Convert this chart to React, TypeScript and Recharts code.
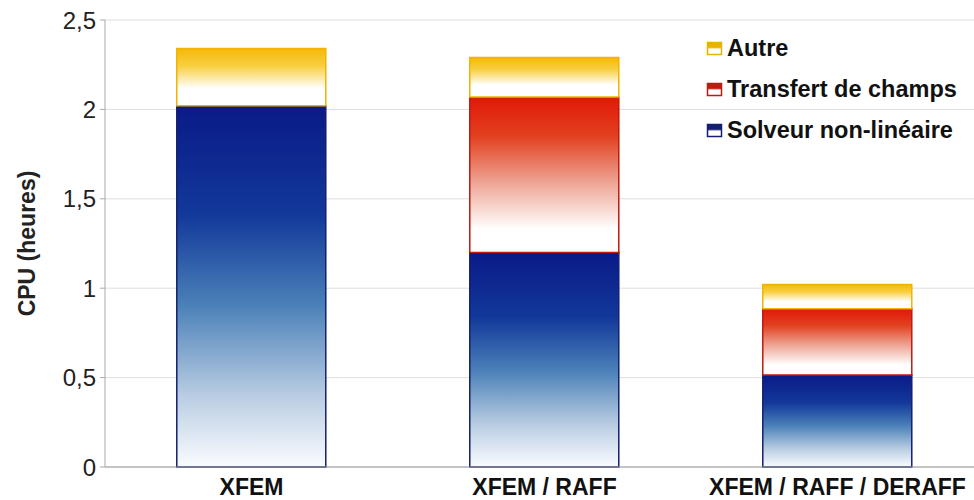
import React from 'react';
import { BarChart, Bar, XAxis, YAxis, CartesianGrid } from 'recharts';

const categories = ['XFEM', 'XFEM / RAFF', 'XFEM / RAFF / DERAFF'];
const solveur = [2.02, 1.2, 0.515];
const transfert = [0, 0.87, 0.37];
const autre = [0.32, 0.22, 0.135];
const yTicks = [0, 0.5, 1, 1.5, 2, 2.5];

const seriesNames = { autre: 'Autre', transfert: 'Transfert de champs', solveur: 'Solveur non-linéaire' };

const data = categories.map((c, i) => ({
  name: c,
  solveur: solveur[i],
  transfert: transfert[i],
  autre: autre[i],
}));

const FONT = '"Liberation Sans", Arial, sans-serif';

const legendItems = [
  { key: 'autre', grad: 'gY', stroke: '#e8b200' },
  { key: 'transfert', grad: 'gR', stroke: '#c01a10' },
  { key: 'solveur', grad: 'gB', stroke: '#14206e' },
];

function Grads() {
  return (
    <defs>
      <linearGradient id="gB" x1="0" y1="0" x2="0" y2="1">
        <stop offset="0%" stopColor="#0a1a88" />
        <stop offset="30%" stopColor="#12389a" />
        <stop offset="55%" stopColor="#4a80b8" />
        <stop offset="80%" stopColor="#b8cce2" />
        <stop offset="100%" stopColor="#fafcff" />
      </linearGradient>
      <linearGradient id="gR" x1="0" y1="0" x2="0" y2="1">
        <stop offset="0%" stopColor="#e01808" />
        <stop offset="25%" stopColor="#e2401f" />
        <stop offset="55%" stopColor="#eea494" />
        <stop offset="85%" stopColor="#ffffff" />
        <stop offset="100%" stopColor="#ffffff" />
      </linearGradient>
      <linearGradient id="gY" x1="0" y1="0" x2="0" y2="1">
        <stop offset="0%" stopColor="#f6b80a" />
        <stop offset="30%" stopColor="#f8cf40" />
        <stop offset="70%" stopColor="#ffffff" />
        <stop offset="100%" stopColor="#ffffff" />
      </linearGradient>
    </defs>
  );
}

function LegendBox() {
  return (
    <div style={{ position: 'absolute', left: 706, top: 28, fontFamily: FONT }}>
      {legendItems.map((it) => (
        <div key={it.key} style={{ display: 'flex', alignItems: 'center', height: 41 }}>
          <svg width={18} height={15} style={{ marginRight: 3 }}>
            <defs>
              <linearGradient id={'l' + it.grad} x1="0" y1="0" x2="0" y2="1">
                <stop offset="0%" stopColor={it.stroke} />
                <stop offset="40%" stopColor={it.stroke} />
                <stop offset="55%" stopColor="#ffffff" />
                <stop offset="100%" stopColor="#ffffff" />
              </linearGradient>
            </defs>
            <rect x={1.5} y={1.5} width={14} height={12} fill={`url(#l${it.grad})`} stroke={it.stroke} strokeWidth={1.5} />
          </svg>
          <span style={{ fontWeight: 'bold', fontSize: 23.5, color: '#111' }}>
            {(seriesNames as any)[it.key]}
          </span>
        </div>
      ))}
    </div>
  );
}

const YLabel = (props: any) => {
  const vb = props.viewBox || {};
  const cx = 27;
  const cy = vb.y + vb.height / 2;
  return (
    <text x={cx} y={cy} transform={`rotate(-90, ${cx}, ${cy})`} textAnchor="middle" dominantBaseline="central"
      style={{ fontFamily: FONT, fontWeight: 'bold', fontSize: 23, fill: '#222' }}>
      CPU (heures)
    </text>
  );
};

export default function App() {
  return (
    <div style={{ position: 'absolute', left: 0, top: 0, width: 974, height: 500, overflow: 'hidden', background: '#fff' }}>
      <BarChart
        width={1000}
        height={500}
        data={data}
        margin={{ top: 20, right: 16, left: 0, bottom: 3 }}
        barCategoryGap="24.5%"
      >
        <Grads />
        <CartesianGrid vertical={false} stroke="#dedede" strokeWidth={1} />
        <XAxis
          dataKey="name"
          height={30}
          axisLine={{ stroke: '#999' }}
          tickLine={false}
          tick={{ fontFamily: FONT, fontWeight: 'bold', fontSize: 23, fill: '#111' }}
          tickMargin={6}
          interval={0}
        />
        <YAxis
          width={105}
          domain={[0, 2.5]}
          ticks={yTicks}
          interval={0}
          axisLine={{ stroke: '#aaa' }}
          tickLine={{ stroke: '#aaa' }}
          tickSize={5}
          tickMargin={4}
          tickFormatter={(v: number) => String(v).replace('.', ',')}
          tick={{ fontFamily: FONT, fontSize: 24, fill: '#222' }}
          label={<YLabel />}
        />
        <Bar dataKey="solveur" name={seriesNames.solveur} stackId="a" fill="url(#gB)" stroke="#14206e" strokeWidth={1.5} isAnimationActive={false} />
        <Bar dataKey="transfert" name={seriesNames.transfert} stackId="a" fill="url(#gR)" stroke="#c01a10" strokeWidth={1.5} isAnimationActive={false} />
        <Bar dataKey="autre" name={seriesNames.autre} stackId="a" fill="url(#gY)" stroke="#f0b400" strokeWidth={1.5} isAnimationActive={false} />
      </BarChart>
      <LegendBox />
    </div>
  );
}
